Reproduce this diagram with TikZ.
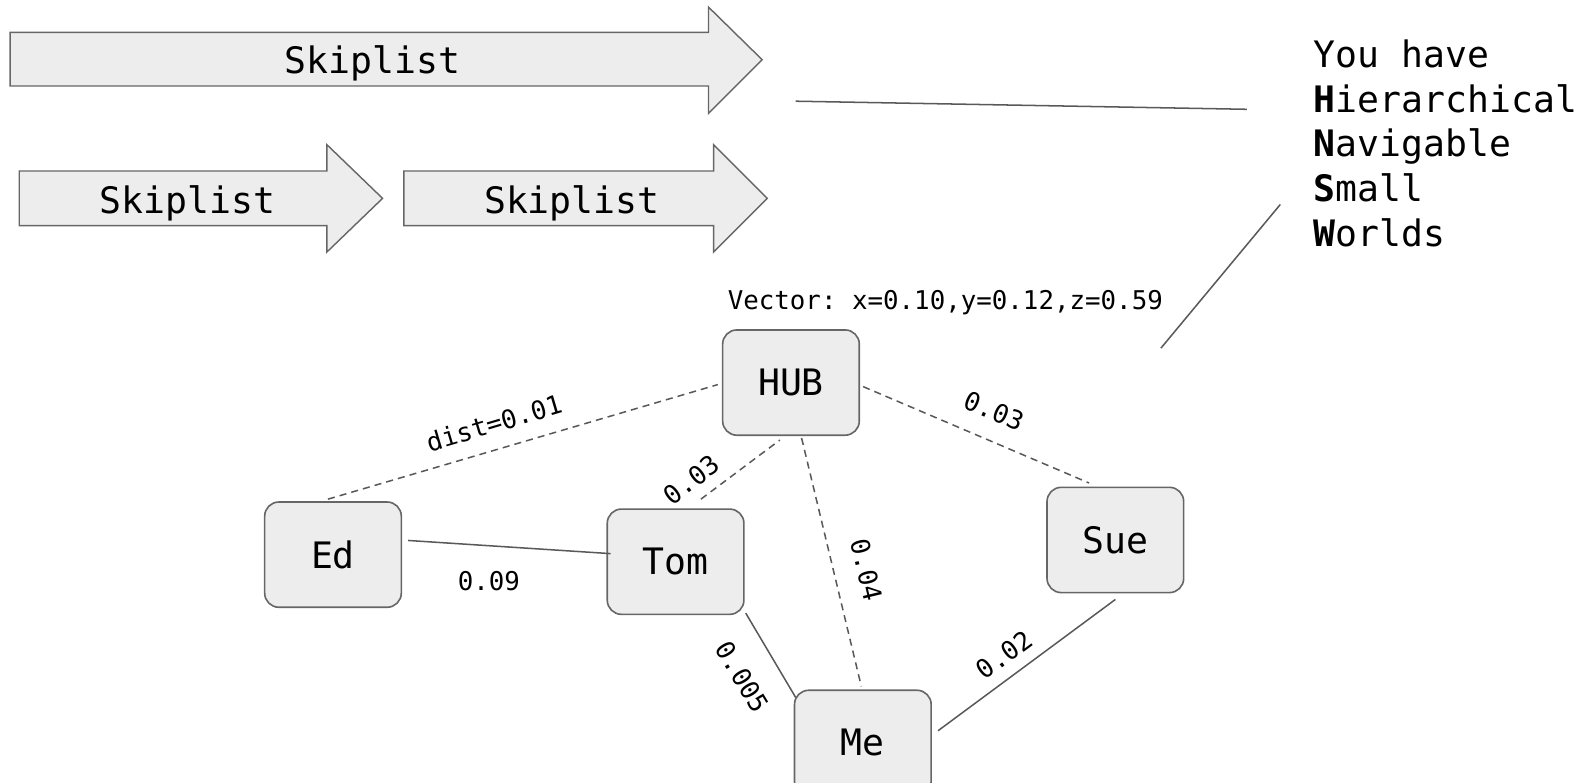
\documentclass[tikz,border=0pt]{standalone}
\usepackage{fontspec}
\newfontfamily\mono{DejaVu Sans Mono}
\frenchspacing
\usetikzlibrary{calc}
\tikzset{
  arrowshape/.style={draw=black!60, fill=black!7, line width=1.4pt, line join=miter},
  bigtext/.style={font=\mono\fontsize{36}{44}\selectfont, inner sep=0pt},
  smalltext/.style={font=\mono\fontsize{25.5}{30}\selectfont, inner sep=0pt},
  vbox/.style={draw=black!60, fill=black!7, line width=1.6pt, rounded corners=14pt,
    minimum width=135pt, minimum height=104pt, font=\mono\fontsize{36}{44}\selectfont, inner sep=0pt},
  conn/.style={draw=black!65, line width=1.5pt},
  dconn/.style={conn, dash pattern=on 7pt off 5pt},
}
\begin{document}
\begin{tikzpicture}[x=1pt,y=1pt]
\useasboundingbox (0,0) rectangle (1568,773);
% arrows
\draw[arrowshape] (10,688)--(700,688)--(700,661)--(753,714)--(700,766)--(700,741)--(10,741)--cycle;
\node[bigtext] (sk1) at (368,710) {Skiplist};
\draw[arrowshape] (19,550)--(323,550)--(323,524)--(378,577)--(323,630)--(323,604)--(19,604)--cycle;
\node[bigtext] (sk2) at (185,572) {Skiplist};
\draw[arrowshape] (399,550)--(705,550)--(705,524)--(758,577)--(705,630)--(705,604)--(399,604)--cycle;
\node[bigtext] (sk3) at (565,572) {Skiplist};
% side lines
\coordinate (l1a) at (786,673);
\coordinate (l1b) at (1232,665);
\coordinate (l2a) at (1265,571);
\coordinate (l2b) at (1147,429);
\draw[conn] (l1a) -- (l1b);
\draw[conn] (l2a) -- (l2b);
% HNSW text
\node[bigtext, anchor=base west] (t1) at (1298,706) {You have};
\node[bigtext, anchor=base west] (t2) at (1298,662) {{\bfseries H}ierarchical};
\node[bigtext, anchor=base west] (t3) at (1298,618) {{\bfseries N}avigable};
\node[bigtext, anchor=base west] (t4) at (1298,574) {{\bfseries S}mall};
\node[bigtext, anchor=base west] (t5) at (1298,529) {{\bfseries W}orlds};
% vector label
\node[smalltext, anchor=base] (vec) at (934,467) {Vector: x=0.10,y=0.12,z=0.59};
% nodes
\node[vbox] (HUB) at (781.5,395) {HUB};
\node[vbox] (Ed) at (329,225) {Ed};
\node[vbox] (Tom) at (667.5,218) {Tom};
\node[vbox] (Sue) at (1102,239.5) {Sue};
\node[vbox] (Me) at (852.5,39) {Me};
% connectors
\draw[dconn] ([shift={(-5,2)}]Ed.north) -- ([shift={(-4,-2)}]HUB.west);
\draw[dconn] ([shift={(25,9)}]Tom.north) -- ([shift={(-11,-4)}]HUB.south);
\draw[dconn] ([shift={(10.5,-2)}]HUB.south) -- ([shift={(-1.5,3)}]Me.north);
\draw[dconn] ([shift={(3,-4)}]HUB.east) -- ([shift={(-26,3.5)}]Sue.north);
\draw[conn] ([shift={(6,14)}]Ed.east) -- ([shift={(4,8)}]Tom.west);
\draw[conn] ([shift={(1,2)}]Tom.south east) -- ([shift={(2,-8)}]Me.north west);
\draw[conn] ([shift={(6,12)}]Me.east) -- ([shift={(0,-6)}]Sue.south);
% edge labels
\node[smalltext, rotate=16.5] (lab1) at (488,355) {dist=0.01};
\node[smalltext, rotate=38] (lab2) at (683,299) {0.03};
\node[smalltext, rotate=-23] (lab3) at (982,367) {0.03};
\node[smalltext, rotate=-76.5] (lab4) at (856,210) {0.04};
\node[smalltext] (lab5) at (483,199) {0.09};
\node[smalltext, rotate=-59] (lab6) at (733,104) {0.005};
\node[smalltext, rotate=36.5] (lab7) at (992,126) {0.02};
\end{tikzpicture}
\end{document}
